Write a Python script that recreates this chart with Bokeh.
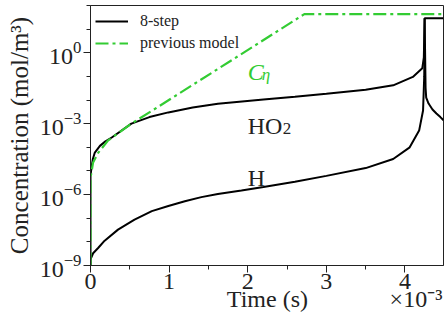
from bokeh.plotting import figure
from bokeh.models import (FixedTicker, CustomJSTickFormatter, LogTickFormatter,
                          Label, Legend, LegendItem, Range1d, LinearAxis)
from bokeh.embed import file_html
from bokeh.resources import INLINE

# ---- data (time in s, concentration in mol/m^3) ----
t_ho2 = [0.0, 0.0, 1.3e-5, 3.0e-5, 5.5e-5, 1.2e-4, 1.9e-4, 2.7e-4, 5.2e-4, 7.5e-4, 9.9e-4,
         1.3e-3, 1.62e-3, 2.2e-3, 2.6e-3, 3.0e-3, 3.5e-3, 3.85e-3, 4.10e-3, 4.22e-3,
         4.24e-3, 4.25e-3, 4.262e-3, 4.27e-3, 4.30e-3, 4.35e-3, 4.40e-3, 4.45e-3, 4.49e-3]
c_ho2 = [1e-12, 6.3e-6, 1.4e-5, 3.2e-5, 6.0e-5, 1.15e-4, 1.8e-4, 2.6e-4, 1.0e-3, 1.9e-3, 3.0e-3,
         4.8e-3, 6.9e-3, 1.05e-2, 1.38e-2, 1.86e-2, 2.75e-2, 4.2e-2, 9.5e-2, 0.22,
         0.63, 29.0, 3.2e-2, 1.26e-2, 7.1e-3, 4.0e-3, 2.7e-3, 1.9e-3, 1.4e-3]

t_h = [0.0, 0.0, 3.3e-5, 9.7e-5, 1.8e-4, 3.5e-4, 5.6e-4, 7.8e-4, 9.9e-4, 1.2e-3, 1.41e-3,
       1.62e-3, 1.92e-3, 2.2e-3, 2.6e-3, 3.0e-3, 3.5e-3, 3.85e-3, 4.06e-3, 4.18e-3,
       4.23e-3, 4.245e-3, 4.25e-3, 4.49e-3]
c_h = [1e-12, 1.8e-9, 3.3e-9, 5.5e-9, 1.12e-8, 3.3e-8, 8.7e-8, 2.0e-7, 3.3e-7, 5.2e-7, 7.8e-7,
       1.07e-6, 1.5e-6, 2.1e-6, 3.5e-6, 6.2e-6, 1.32e-5, 3.2e-5, 1.0e-4, 5.1e-4,
       3.6e-3, 0.1, 29.0, 29.0]

t_prev = [0.0, 0.0, 3.3e-5, 1.0e-4, 2.2e-4, 5.2e-4, 7.8e-4, 2.72e-3, 4.49e-3]
c_prev = [1e-10, 5.0e-6, 2.3e-5, 6.0e-5, 1.9e-4, 1.0e-3, 3.5e-3, 43.0, 43.0]

x_ticks = [0.0, 1e-3, 2e-3, 3e-3, 4e-3]
x_minor = [0.0, 0.5e-3, 1e-3, 1.5e-3, 2e-3, 2.5e-3, 3e-3, 3.5e-3, 4e-3]
y_ticks = [1e-9, 1e-6, 1e-3, 1.0]
y_minor = [1e-9, 1e-8, 1e-7, 1e-6, 1e-5, 1e-4, 1e-3, 1e-2, 1e-1, 1.0, 1e1, 1e2]
# second row under the x axis: axis title and the offset multiplier
row2_pos = [2.25e-3, 4.14e-3]
row2_text = ["Time (s)", "×10⁻³"]

FONT = "Liberation Serif"
GREEN = "#33cc33"
INK = "#222222"

p = figure(width=446, height=321, y_axis_type="log",
           x_range=Range1d(0, 4.49e-3), y_range=Range1d(1e-9, 1e2),
           output_backend="svg", toolbar_location=None)
p.min_border_left = 90
p.min_border_right = 3
p.min_border_top = 5
p.min_border_bottom = 56
p.grid.visible = False
p.outline_line_color = INK
p.outline_line_width = 1
p.background_fill_color = "white"
p.border_fill_color = "white"

r1 = p.line(t_ho2, c_ho2, line_color="black", line_width=2)
r2 = p.line(t_h, c_h, line_color="black", line_width=2)
r3 = p.line(t_prev, c_prev, line_color=GREEN, line_width=2.2, line_dash="13 4 3 4")

# axes
for ax in (p.xaxis[0], p.yaxis[0]):
    ax.axis_line_color = INK
    ax.major_tick_line_color = INK
    ax.minor_tick_line_color = INK
    ax.major_tick_in = 0
    ax.minor_tick_in = 0
    ax.major_tick_out = 7
    ax.minor_tick_out = 4
    ax.major_label_text_font = FONT
    ax.major_label_text_font_size = "24px"
    ax.major_label_text_color = INK
    ax.axis_label_text_font = FONT
    ax.axis_label_text_font_style = "normal"
    ax.axis_label_text_color = INK

p.xaxis.ticker = FixedTicker(ticks=x_ticks, minor_ticks=x_minor)
p.xaxis.formatter = CustomJSTickFormatter(code="return (tick*1000).toFixed(0)")
p.xaxis.major_label_standoff = 1

p.yaxis.ticker = FixedTicker(ticks=y_ticks, minor_ticks=y_minor)
p.yaxis.formatter = LogTickFormatter()
p.yaxis.major_label_standoff = 2
p.yaxis.axis_label = "Concentration (mol/m³)"
p.yaxis.axis_label_text_font_size = "25px"
p.yaxis.axis_label_standoff = 4

# second row of texts below the tick labels, drawn by a bare bottom axis
row2 = LinearAxis(ticker=FixedTicker(ticks=row2_pos, minor_ticks=[]),
                  formatter=CustomJSTickFormatter(
                      args=dict(pos=row2_pos, txt=row2_text),
                      code="""
let b = 0;
for (let i = 0; i < pos.length; i++) {
  if (Math.abs(pos[i] - tick) < Math.abs(pos[b] - tick)) b = i;
}
return txt[b];
"""))
row2.axis_line_alpha = 0
row2.major_tick_out = 0
row2.major_tick_in = 0
row2.minor_tick_out = 0
row2.minor_tick_in = 0
row2.major_label_text_font = FONT
row2.major_label_text_font_size = "24px"
row2.major_label_text_color = INK
row2.major_label_standoff = -6
p.add_layout(row2, "below")

# legend
legend = Legend(items=[LegendItem(label="8-step", renderers=[r1]),
                       LegendItem(label="previous model", renderers=[r3])],
                location="top_left")
legend.label_text_font = FONT
legend.label_text_font_size = "16px"
legend.label_text_color = INK
legend.background_fill_alpha = 0
legend.border_line_alpha = 0
legend.glyph_width = 33
legend.glyph_height = 22
legend.label_height = 22
legend.label_standoff = 12
legend.spacing = 0
legend.padding = 4
legend.margin = 1
p.add_layout(legend)

# annotations
def lab(x, y, text, size, color=INK, style="normal"):
    p.add_layout(Label(x=x, y=y, text=text,
                       text_font=FONT, text_font_size=size,
                       text_color=color, text_font_style=style,
                       text_baseline="alphabetic", text_align="left"))

lab(2.0e-3, 0.148, "C", "24px", GREEN, "italic")
lab(2.177e-3, 0.12, "η", "17px", GREEN, "italic")
lab(2.0e-3, 8.2e-4, "HO", "24px")
lab(2.445e-3, 6.2e-4, "2", "17px")
lab(2.0e-3, 5.0e-6, "H", "24px")

open("out.html", "w").write(file_html(p, INLINE))
